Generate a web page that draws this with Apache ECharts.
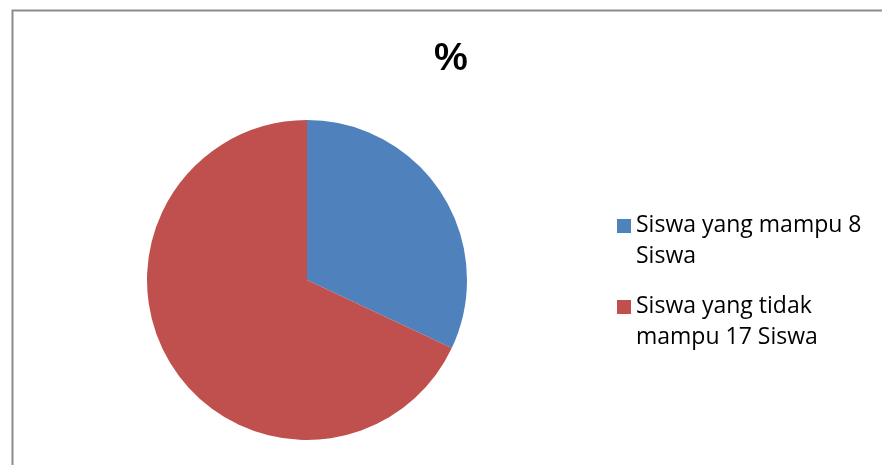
<!DOCTYPE html>
<html>
<head>
<meta charset="utf-8">
<script src="https://cdn.jsdelivr.net/npm/echarts@6/dist/echarts.min.js"></script>
<style>html,body{margin:0;padding:0;background:#fff;}#c{width:882px;height:465px;}</style>
</head>
<body>
<div id="c"></div>
<script>
var titleText = '%';
var categories = ['Siswa yang mampu 8 Siswa', 'Siswa yang tidak mampu 17 Siswa'];
var legendLabels = ['Siswa yang mampu 8\nSiswa', 'Siswa yang tidak\nmampu 17 Siswa'];
var values = [8, 17];
var colors = ['#4F81BD', '#C0504D'];

var chart = echarts.init(document.getElementById('c'));
chart.setOption({
  animation: false,
  backgroundColor: '#fff',
  graphic: [{
    type: 'rect', left: 10, top: 8,
    shape: { width: 900, height: 500 },
    style: { fill: 'none', stroke: '#8c8c8c', lineWidth: 2 }
  }],
  title: {
    text: titleText, left: 429, top: 36,
    textStyle: { fontFamily: 'Liberation Sans', fontWeight: 'bold', fontSize: 38, color: '#000' }
  },
  legend: {
    orient: 'vertical', left: 617, top: 210, padding: 0,
    itemWidth: 14, itemHeight: 44, itemGap: 19,
    icon: 'path://M0,0L14,0L14,14L0,14Z M0,44L0.01,44',
    formatter: function (name) { return legendLabels[categories.indexOf(name)]; },
    textStyle: { fontFamily: 'Open Sans', fontSize: 23, color: '#000', lineHeight: 31 }
  },
  series: [{
    type: 'pie', center: [307, 280], radius: 160,
    startAngle: 90, clockwise: true,
    label: { show: false }, labelLine: { show: false },
    itemStyle: { borderWidth: 0 },
    emphasis: { disabled: true },
    data: categories.map(function (c, i) { return { name: c, value: values[i], itemStyle: { color: colors[i] } }; })
  }]
});
</script>
</body>
</html>
